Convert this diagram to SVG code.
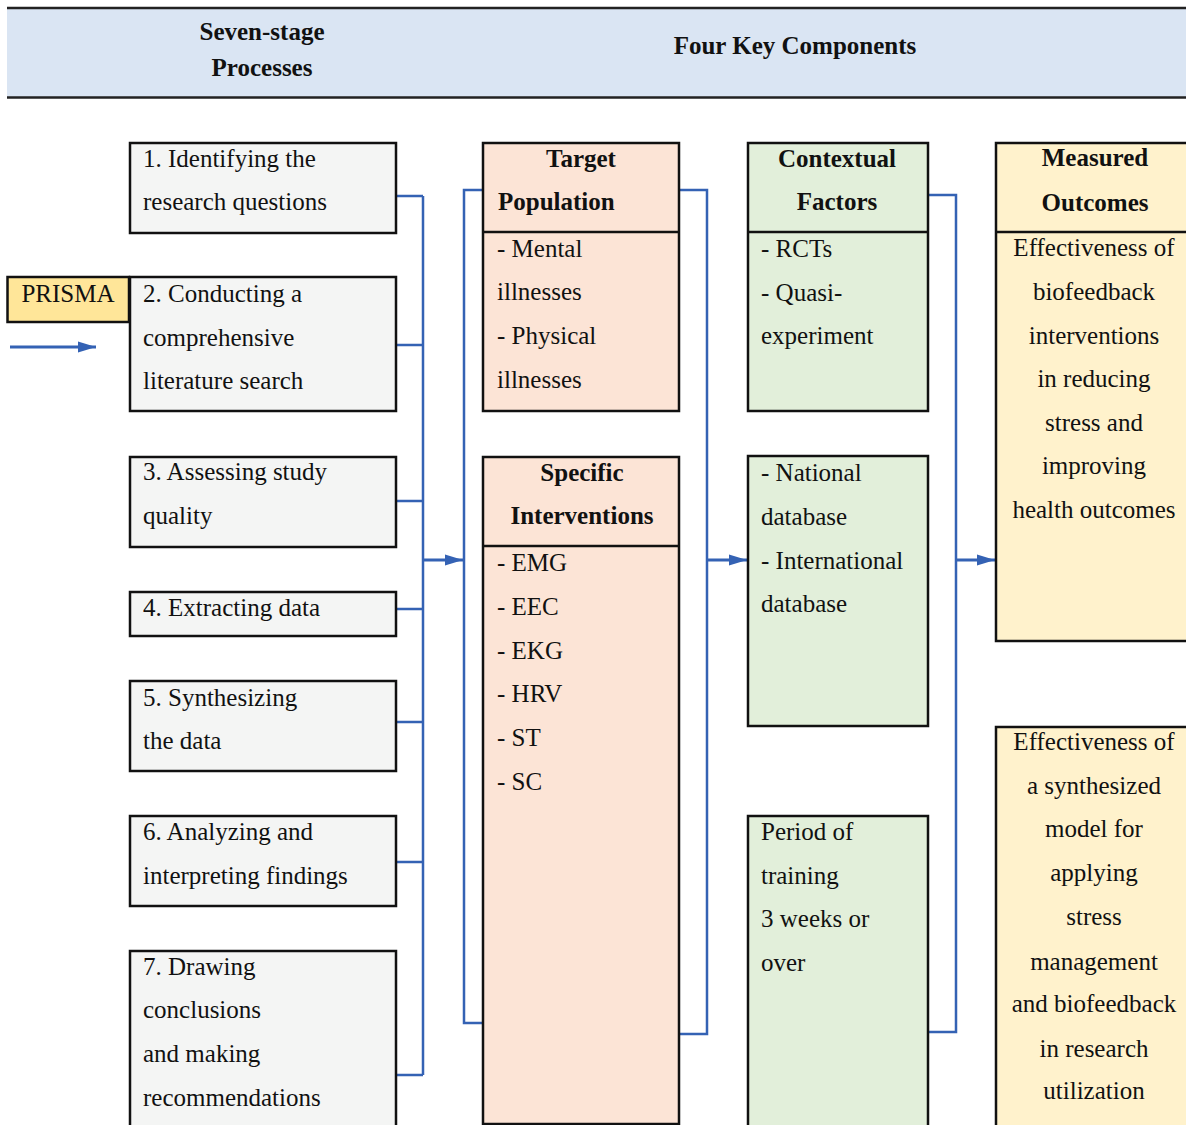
<svg xmlns="http://www.w3.org/2000/svg" width="1186" height="1125" viewBox="0 0 1186 1125">
<defs>
<style>
text{font-family:"Liberation Serif","Times New Roman",serif;font-size:25px;fill:#111}
.b{font-weight:bold}
.c{text-anchor:middle}
.box{stroke:#111;stroke-width:2.5}
.g{fill:#f4f5f4}
.o{fill:#fce4d6}
.gr{fill:#e2efda}
.y{fill:#fff2cc}
.p{fill:#ffe699}
.con{fill:none;stroke:#3462b4;stroke-width:2.5}
.arr{fill:none;stroke:#3462b4;stroke-width:3}
.div{stroke:#111;stroke-width:2.5}
</style>
<marker id="ah" markerUnits="userSpaceOnUse" markerWidth="18" markerHeight="12" refX="18" refY="6" orient="auto">
<path d="M0,0.5 L18,6 L0,11.5 z" fill="#3462b4"/>
</marker>
</defs>
<rect width="1186" height="1125" fill="#fff"/>
<g id="header">
<rect x="7" y="8" width="1179" height="90" fill="#dae5f3"/>
<line x1="7" y1="8" x2="1186" y2="8" stroke="#222" stroke-width="2.5"/>
<line x1="7" y1="97.5" x2="1186" y2="97.5" stroke="#222" stroke-width="2.5"/>
<text class="b c" x="262" y="40">Seven-stage</text>
<text class="b c" x="262" y="76">Processes</text>
<text class="b c" x="795" y="54">Four Key Components</text>
</g>
<g id="connectors">
<line class="arr" x1="10" y1="347" x2="96" y2="347" marker-end="url(#ah)"/>
<path class="con" d="M396,196 H423 M396,345 H423 M396,501 H423 M396,609 H423 M396,722 H423 M396,862 H423 M396,1075 H423 M423,196 V1075"/>
<line class="arr" x1="423" y1="560" x2="463" y2="560" marker-end="url(#ah)"/>
<path class="con" d="M483,190 H464 V1023 H483"/>
<path class="con" d="M679,190 H707 V1034 H679"/>
<line class="arr" x1="707" y1="560" x2="747" y2="560" marker-end="url(#ah)"/>
<path class="con" d="M928,195 H956 V1032 H928"/>
<line class="arr" x1="956" y1="560" x2="995" y2="560" marker-end="url(#ah)"/>
</g>
<g id="prisma">
<rect class="box p" x="7.5" y="277" width="121.5" height="45"/>
<text class="c" x="68" y="302">PRISMA</text>
</g>
<g id="stage1">
<rect class="box g" x="130" y="143" width="266" height="90"/>
<text x="143" y="167">1. Identifying the</text>
<text x="143" y="210">research questions</text>
</g>
<g id="stage2">
<rect class="box g" x="130" y="277" width="266" height="134"/>
<text x="143" y="302">2. Conducting a</text>
<text x="143" y="346">comprehensive</text>
<text x="143" y="389">literature search</text>
</g>
<g id="stage3">
<rect class="box g" x="130" y="457" width="266" height="90"/>
<text x="143" y="480">3. Assessing study</text>
<text x="143" y="524">quality</text>
</g>
<g id="stage4">
<rect class="box g" x="130" y="592" width="266" height="44"/>
<text x="143" y="616">4. Extracting data</text>
</g>
<g id="stage5">
<rect class="box g" x="130" y="681" width="266" height="90"/>
<text x="143" y="706">5. Synthesizing</text>
<text x="143" y="749">the data</text>
</g>
<g id="stage6">
<rect class="box g" x="130" y="816" width="266" height="90"/>
<text x="143" y="840">6. Analyzing and</text>
<text x="143" y="884">interpreting findings</text>
</g>
<g id="stage7">
<rect class="box g" x="130" y="951" width="266" height="200"/>
<text x="143" y="975">7. Drawing</text>
<text x="143" y="1018">conclusions</text>
<text x="143" y="1062">and making</text>
<text x="143" y="1106">recommendations</text>
</g>
<g id="target-population">
<rect class="box o" x="483" y="143" width="196" height="268"/>
<line class="div" x1="483" y1="232" x2="679" y2="232"/>
<text class="b c" x="581" y="167">Target</text>
<text class="b" x="498" y="210">Population</text>
<text x="497" y="257">- Mental</text>
<text x="497" y="300">illnesses</text>
<text x="497" y="344">- Physical</text>
<text x="497" y="388">illnesses</text>
</g>
<g id="specific-interventions">
<rect class="box o" x="483" y="457" width="196" height="667"/>
<line class="div" x1="483" y1="546" x2="679" y2="546"/>
<text class="b c" x="582" y="481">Specific</text>
<text class="b c" x="582" y="524">Interventions</text>
<text x="497" y="571">- EMG</text>
<text x="497" y="615">- EEC</text>
<text x="497" y="659">- EKG</text>
<text x="497" y="702">- HRV</text>
<text x="497" y="746">- ST</text>
<text x="497" y="790">- SC</text>
</g>
<g id="contextual-factors">
<rect class="box gr" x="748" y="143" width="180" height="268"/>
<line class="div" x1="748" y1="232" x2="928" y2="232"/>
<text class="b c" x="837" y="167">Contextual</text>
<text class="b c" x="837" y="210">Factors</text>
<text x="761" y="257">- RCTs</text>
<text x="761" y="301">- Quasi-</text>
<text x="761" y="344">experiment</text>
</g>
<g id="database">
<rect class="box gr" x="748" y="456" width="180" height="270"/>
<text x="761" y="481">- National</text>
<text x="761" y="525">database</text>
<text x="761" y="569">- International</text>
<text x="761" y="612">database</text>
</g>
<g id="period">
<rect class="box gr" x="748" y="816" width="180" height="340"/>
<text x="761" y="840">Period of</text>
<text x="761" y="884">training</text>
<text x="761" y="927">3 weeks or</text>
<text x="761" y="971">over</text>
</g>
<g id="measured-outcomes">
<rect class="box y" x="996" y="143" width="220" height="498"/>
<line class="div" x1="996" y1="232" x2="1216" y2="232"/>
<text class="b c" x="1095" y="166">Measured</text>
<text class="b c" x="1095" y="211">Outcomes</text>
<text class="c" x="1094" y="256">Effectiveness of</text>
<text class="c" x="1094" y="300">biofeedback</text>
<text class="c" x="1094" y="344">interventions</text>
<text class="c" x="1094" y="387">in reducing</text>
<text class="c" x="1094" y="431">stress and</text>
<text class="c" x="1094" y="474">improving</text>
<text class="c" x="1094" y="518">health outcomes</text>
</g>
<g id="synthesized-model">
<rect class="box y" x="996" y="727" width="220" height="430"/>
<text class="c" x="1094" y="750">Effectiveness of</text>
<text class="c" x="1094" y="794">a synthesized</text>
<text class="c" x="1094" y="837">model for</text>
<text class="c" x="1094" y="881">applying</text>
<text class="c" x="1094" y="925">stress</text>
<text class="c" x="1094" y="970">management</text>
<text class="c" x="1094" y="1012">and biofeedback</text>
<text class="c" x="1094" y="1057">in research</text>
<text class="c" x="1094" y="1099">utilization</text>
</g>
</svg>
